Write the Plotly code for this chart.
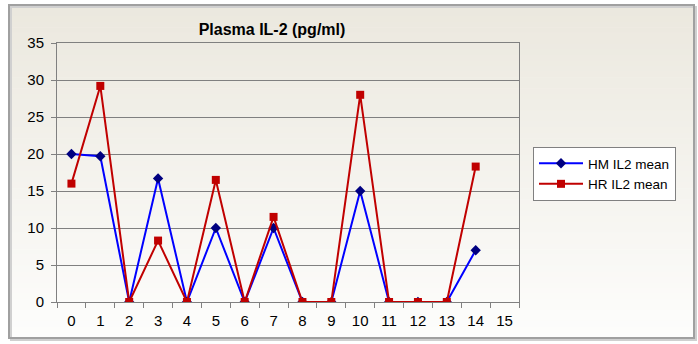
import plotly.graph_objects as go

# Day index on the category axis
days = list(range(15))
day_labels = [str(d) for d in range(16)]

# Mean plasma IL-2 (pg/ml) per group
hm_il2_mean = [20.0, 19.7, 0, 16.7, 0, 10.0, 0, 10.0, 0, 0, 15.0, 0, 0, 0, 7.0]
hr_il2_mean = [16.0, 29.2, 0, 8.3, 0, 16.5, 0, 11.5, 0, 0, 28.0, 0, 0, 0, 18.3]

W, H = 698, 344
L, R, T, B = 57, 519, 43, 302  # plot-area edges in pixels


def px_to_paper_x(px):
    return (px - L) / (R - L)


def px_to_paper_y(py):
    return (B - py) / (B - T)


fig = go.Figure()

fig.add_trace(go.Scatter(
    x=days, y=hm_il2_mean, name="HM IL2 mean", mode="lines+markers",
    line=dict(color="#0000FF", width=2),
    marker=dict(symbol="diamond", size=8, color="#000080"),
))
fig.add_trace(go.Scatter(
    x=days, y=hr_il2_mean, name="HR IL2 mean", mode="lines+markers",
    line=dict(color="#C00000", width=2),
    marker=dict(symbol="square", size=8, color="#C00000"),
))

# Chart background: vertical beige-to-white gradient inside a framed box
shapes = []
fx0, fx1, fy0, fy1 = 9, 694, 5, 338
top_rgb = (235, 232, 222)
bot_rgb = (253, 253, 252)
n = 60
for i in range(n):
    t = i / (n - 1)
    c = tuple(round(top_rgb[k] + (bot_rgb[k] - top_rgb[k]) * t) for k in range(3))
    y_a = fy0 + (fy1 - fy0) * i / n
    y_b = fy0 + (fy1 - fy0) * (i + 1) / n + 0.6
    shapes.append(dict(
        type="rect", xref="paper", yref="paper", layer="below",
        x0=px_to_paper_x(fx0), x1=px_to_paper_x(fx1),
        y0=px_to_paper_y(y_a), y1=px_to_paper_y(min(y_b, fy1)),
        fillcolor="rgb(%d,%d,%d)" % c, line=dict(width=0),
    ))
# soft shadow and frame
shapes.append(dict(
    type="rect", xref="paper", yref="paper", layer="below",
    x0=px_to_paper_x(fx0 + 2), x1=px_to_paper_x(fx1 + 2),
    y0=px_to_paper_y(fy0 + 2), y1=px_to_paper_y(fy1 + 2),
    fillcolor="rgba(0,0,0,0)", line=dict(color="#D0D0D0", width=2),
))
shapes.append(dict(
    type="rect", xref="paper", yref="paper", layer="below",
    x0=px_to_paper_x(fx0), x1=px_to_paper_x(fx1),
    y0=px_to_paper_y(fy0), y1=px_to_paper_y(fy1),
    fillcolor="rgba(0,0,0,0)", line=dict(color="#A0A0A0", width=2),
))

fig.update_layout(
    width=W, height=H,
    margin=dict(l=L, r=W - R, t=T, b=H - B),
    paper_bgcolor="white",
    plot_bgcolor="rgba(0,0,0,0)",
    font=dict(family="Liberation Sans, Arial, sans-serif", size=13, color="#000000"),
    title=dict(
        text="<b>Plasma IL-2 (pg/ml)</b>",
        x=272 / W, xanchor="center", xref="container",
        y=1 - 29 / H, yanchor="middle", yref="container",
        font=dict(size=16, color="#000000"),
    ),
    showlegend=True,
    legend=dict(
        x=px_to_paper_x(533), y=px_to_paper_y(147),
        xanchor="left", yanchor="top",
        bgcolor="white", bordercolor="#808080", borderwidth=1,
        font=dict(size=13.5), tracegroupgap=0, itemwidth=44,
    ),
    shapes=shapes,
    xaxis=dict(
        range=[-0.5, 15.5],
        tickmode="array", tickvals=list(range(16)), ticktext=day_labels,
        ticks="", showgrid=False, zeroline=False,
        showline=True, linecolor="#808080", linewidth=1, mirror=True,
        minor=dict(tickmode="array", tickvals=[v - 0.5 for v in range(17)],
                   ticks="outside", ticklen=5, tickcolor="#808080", showgrid=False),
        tickfont=dict(size=15), ticklabelstandoff=5,
    ),
    yaxis=dict(
        range=[0, 35], tickmode="linear", tick0=0, dtick=5,
        ticks="outside", ticklen=5, tickcolor="#808080",
        showgrid=True, gridcolor="#808080", gridwidth=1,
        zeroline=False, showline=True, linecolor="#808080", linewidth=1, mirror=True,
        tickfont=dict(size=15), ticklabelstandoff=4,
    ),
)

fig.write_html("out.html")
